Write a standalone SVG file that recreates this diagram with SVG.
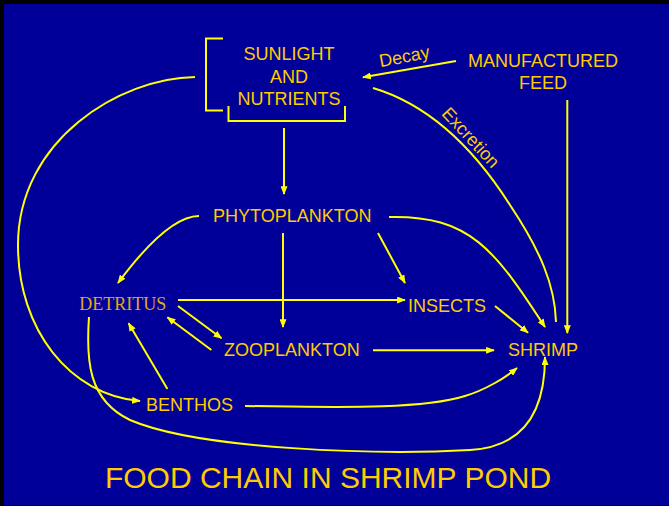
<svg xmlns="http://www.w3.org/2000/svg" width="669" height="506" viewBox="0 0 669 506">
<defs>
<style>
.t{font-family:"Liberation Sans",Arial,sans-serif;font-size:18px;fill:#FFCC00}
.s{font-family:"Liberation Serif","Times New Roman",serif;font-size:18px;fill:#E0A820}
.c{fill:none;stroke:#FFFF00;stroke-width:2}
.a{marker-end:url(#ah)}
</style>
<marker id="ah" viewBox="0 0 10 8" refX="9" refY="4" markerWidth="9" markerHeight="7" markerUnits="userSpaceOnUse" orient="auto">
<path d="M0,0 L10,4 L0,8 z" fill="#FFFF00"/>
</marker>
</defs>
<rect x="0" y="0" width="669" height="506" fill="#000000"/>
<rect x="4" y="4" width="665" height="501" fill="#000099"/>

<g id="sunlight">
<text class="t" x="289" y="60" text-anchor="middle">SUNLIGHT</text>
<text class="t" x="289" y="82.7" text-anchor="middle">AND</text>
<text class="t" x="289" y="105" text-anchor="middle">NUTRIENTS</text>
<path class="c" d="M223,38.5 H206 V110.5 H223"/>
<path class="c" d="M228.5,106 V121 H345 V106"/>
</g>
<g id="feed">
<text class="t" x="543" y="66.7" text-anchor="middle">MANUFACTURED</text>
<text class="t" x="543" y="88.7" text-anchor="middle">FEED</text>
</g>
<g id="phytoplankton"><text class="t" x="213" y="221.5">PHYTOPLANKTON</text></g>
<g id="detritus"><text class="s" x="79.3" y="310">DETRITUS</text></g>
<g id="insects"><text class="t" x="408" y="311.5">INSECTS</text></g>
<g id="zooplankton"><text class="t" x="224" y="355.5">ZOOPLANKTON</text></g>
<g id="shrimp"><text class="t" x="508" y="355.5">SHRIMP</text></g>
<g id="benthos"><text class="t" x="146" y="411">BENTHOS</text></g>
<g id="title"><text class="t" x="328" y="488" text-anchor="middle" style="font-size:30px">FOOD CHAIN IN SHRIMP POND</text></g>

<g id="connectors">
<path class="c a" d="M195,77 C120,78 18,140 18,245 C18,330 70,395 140,401"/>
<path class="c a" d="M456,61 L363,77.3"/>
<path class="c" d="M373,88 C430,105 475,150 510,205 C540,250 555,285 556,322"/>
<path class="c a" d="M567.3,100 V333"/>
<path class="c a" d="M284,128 V194"/>
<path class="c a" d="M283,233 V327"/>
<path class="c a" d="M199,216 C178,216 150,240 118,283"/>
<path class="c a" d="M378,233 L405,283"/>
<path class="c a" d="M389,217 C470,215 495,250 545,327"/>
<path class="c a" d="M178,300 H405"/>
<path class="c a" d="M178,306 L221.5,338.3"/>
<path class="c a" d="M211.4,350 L167.4,317.3"/>
<path class="c a" d="M167.4,389 L128.6,323.3"/>
<path class="c a" d="M495,306 L528,332.7"/>
<path class="c a" d="M373,350.3 H494"/>
<path class="c a" d="M245,406 C330,407 420,410 465,396 C485,390 505,378 517,368"/>
<path class="c a" d="M89,317 C86,360 88,400 130,420 C200,450 380,455 470,450 C525,447 545,410 545,357"/>
<text class="t" x="405.5" y="62.5" text-anchor="middle" transform="rotate(-11 405.5 62.5)">Decay</text>
<text class="t" x="466.3" y="141.7" text-anchor="middle" transform="rotate(47 466.3 141.7)">Excretion</text>
</g>
</svg>
